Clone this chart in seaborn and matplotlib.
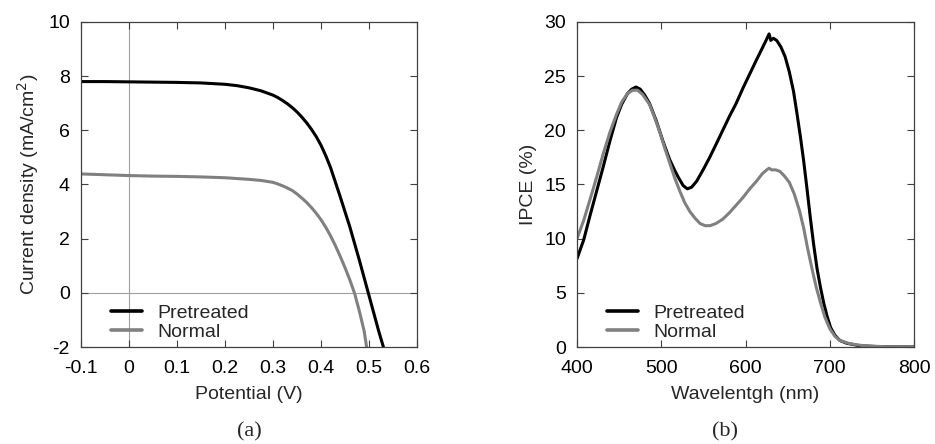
import numpy as np
import pandas as pd
import matplotlib
matplotlib.use("Agg")
import matplotlib.pyplot as plt
import seaborn as sns

# ---- J-V data ----
v_pre = [-0.1, -0.05, 0.0, 0.05, 0.1, 0.15, 0.2, 0.225, 0.25, 0.275, 0.3, 0.31, 0.32,
         0.33, 0.34, 0.35, 0.36, 0.37, 0.38, 0.39, 0.4, 0.41, 0.42, 0.44, 0.46, 0.48,
         0.5, 0.52, 0.53]
j_pre = [7.80, 7.80, 7.79, 7.78, 7.77, 7.75, 7.70, 7.65, 7.57, 7.46, 7.30, 7.21, 7.10,
         6.98, 6.84, 6.68, 6.49, 6.28, 6.04, 5.77, 5.45, 5.06, 4.62, 3.55, 2.44, 1.20,
         -0.10, -1.40, -2.0]
v_norm = [-0.1, -0.05, 0.0, 0.05, 0.1, 0.15, 0.2, 0.25, 0.275, 0.3, 0.31, 0.32, 0.33,
          0.34, 0.35, 0.36, 0.37, 0.38, 0.39, 0.40, 0.41, 0.42, 0.43, 0.44, 0.45, 0.46,
          0.47, 0.48, 0.49, 0.495]
j_norm = [4.39, 4.36, 4.33, 4.31, 4.30, 4.28, 4.25, 4.19, 4.15, 4.08, 4.02, 3.95, 3.87,
          3.78, 3.65, 3.50, 3.34, 3.15, 2.94, 2.70, 2.42, 2.10, 1.74, 1.35, 0.93, 0.48,
          -0.02, -0.68, -1.42, -2.0]

# ---- IPCE data ----
wl_pre = [400, 408, 415, 423, 431, 439, 447, 453, 460, 465, 470, 475, 480, 486, 494,
          502, 510, 516, 520, 526, 531, 536, 542, 550, 557.5, 565, 573, 581, 589, 597,
          605, 613, 620, 625, 628, 630, 633, 637, 642, 647, 652, 657, 661, 665, 669, 673,
          677, 681, 685, 689, 693, 697, 701, 706, 712, 720, 735, 760, 800]
ipce_pre = [8.15, 9.9, 12.0, 14.3, 16.6, 19.0, 21.2, 22.4, 23.4, 23.8, 24.0, 23.8, 23.3,
            22.5, 20.9, 19.0, 17.3, 16.3, 15.7, 14.9, 14.6, 14.75, 15.3, 16.4, 17.5, 18.7,
            20.0, 21.3, 22.5, 23.9, 25.2, 26.5, 27.6, 28.4, 28.9, 28.3, 28.5, 28.3, 27.7,
            26.8, 25.4, 23.6, 21.6, 19.5, 17.2, 14.6, 11.9, 9.4, 7.2, 5.5, 4.0, 2.8, 1.8,
            1.1, 0.6, 0.35, 0.12, 0.02, 0.0]
wl_norm = [400, 408, 415, 423, 431, 439, 447, 453, 460, 466, 472, 478, 486, 492, 498, 504,
           510, 516, 522, 528, 534, 540, 546, 552, 558, 565, 573, 581, 589, 597, 605, 613,
           620, 626, 628, 631, 636, 641, 646, 652, 658, 664, 669, 674, 679, 684, 689, 694,
           700, 706, 712, 724, 740, 767, 800]
ipce_norm = [10.0, 11.7, 13.5, 15.6, 17.8, 19.8, 21.5, 22.6, 23.4, 23.7, 23.7, 23.3, 22.4,
             21.2, 19.9, 18.4, 17.0, 15.6, 14.4, 13.3, 12.5, 11.9, 11.4, 11.2, 11.2, 11.4,
             11.8, 12.4, 13.1, 13.8, 14.6, 15.3, 16.0, 16.4, 16.5, 16.35, 16.35, 16.2,
             15.8, 15.2, 14.1, 12.6, 11.0, 9.0, 7.2, 5.5, 4.1, 2.8, 1.7, 1.0, 0.6, 0.3,
             0.12, 0.02, 0.0]

series_names = ["Pretreated", "Normal"]
colors = {"Pretreated": "#000000", "Normal": "#808080"}

df_jv = pd.concat([
    pd.DataFrame({"x": v_pre, "y": j_pre, "s": "Pretreated"}),
    pd.DataFrame({"x": v_norm, "y": j_norm, "s": "Normal"}),
])
df_ipce = pd.concat([
    pd.DataFrame({"x": wl_pre, "y": ipce_pre, "s": "Pretreated"}),
    pd.DataFrame({"x": wl_norm, "y": ipce_norm, "s": "Normal"}),
])

sns.set_theme(style="white")
plt.rcParams["font.family"] = ["Liberation Sans", "DejaVu Sans"]
plt.rcParams["axes.unicode_minus"] = False
FS = 14

fig = plt.figure(figsize=(9.35, 4.44), dpi=100)
W, H = 935, 444
ax1 = fig.add_axes([81 / W, 1 - 347 / H, (417 - 81) / W, (347 - 22) / H])
ax2 = fig.add_axes([577 / W, 1 - 347 / H, (914 - 577) / W, (347 - 22) / H])

# panel a
ax1.axvline(0, color="#a0a0a0", lw=0.8, zorder=0)
ax1.axhline(0, color="#a0a0a0", lw=0.8, zorder=0)
sns.lineplot(data=df_jv, x="x", y="y", hue="s", hue_order=series_names, palette=colors,
             lw=2.2, ax=ax1, sort=False, estimator=None)
ax1.set_xlim(-0.1, 0.6)
ax1.set_ylim(-2, 10)
ax1.set_xticks([-0.1, 0, 0.1, 0.2, 0.3, 0.4, 0.5, 0.6])
ax1.set_xticklabels(["-0.1", "0", "0.1", "0.2", "0.3", "0.4", "0.5", "0.6"])
ax1.set_yticks([-2, 0, 2, 4, 6, 8, 10])
ax1.set_xlabel("Potential (V)", fontsize=FS)
ax1.set_ylabel("Current density (mA/cm$^2$)", fontsize=FS)

# panel b
sns.lineplot(data=df_ipce, x="x", y="y", hue="s", hue_order=series_names, palette=colors,
             lw=2.2, ax=ax2, sort=False, estimator=None)
ax2.set_xlim(400, 800)
ax2.set_ylim(0, 30)
ax2.set_xticks([400, 500, 600, 700, 800])
ax2.set_yticks([0, 5, 10, 15, 20, 25, 30])
ax2.set_xlabel("Wavelentgh (nm)", fontsize=FS)
ax2.set_ylabel("IPCE (%)", fontsize=FS)

for ax in (ax1, ax2):
    for sp in ax.spines.values():
        sp.set_visible(True)
        sp.set_color("#404040")
        sp.set_linewidth(0.9)
    ax.tick_params(direction="in", length=5, width=0.8, color="#404040",
                   top=True, right=True, bottom=True, left=True,
                   labelsize=FS, labelcolor="#000000")
    ax.tick_params(axis="x", pad=9)
    ax.tick_params(axis="y", pad=8)
    ax.grid(False)
    leg = ax.legend(loc="lower left", frameon=False, fontsize=FS, handlelength=1.6,
                    handletextpad=0.8, labelspacing=0.05, borderaxespad=0.1,
                    bbox_to_anchor=(0.06, -0.01))
    for line in leg.get_lines():
        line.set_linewidth(2.6)
    ax.xaxis.labelpad = 7
    ax.yaxis.labelpad = 5

fig.text(249 / W, 1 - 432 / H, "(a)", ha="center", va="center",
         fontsize=16, family=["Liberation Serif", "DejaVu Serif"])
fig.text(725 / W, 1 - 432 / H, "(b)", ha="center", va="center",
         fontsize=16, family=["Liberation Serif", "DejaVu Serif"])

fig.savefig("out.png", dpi=100)
